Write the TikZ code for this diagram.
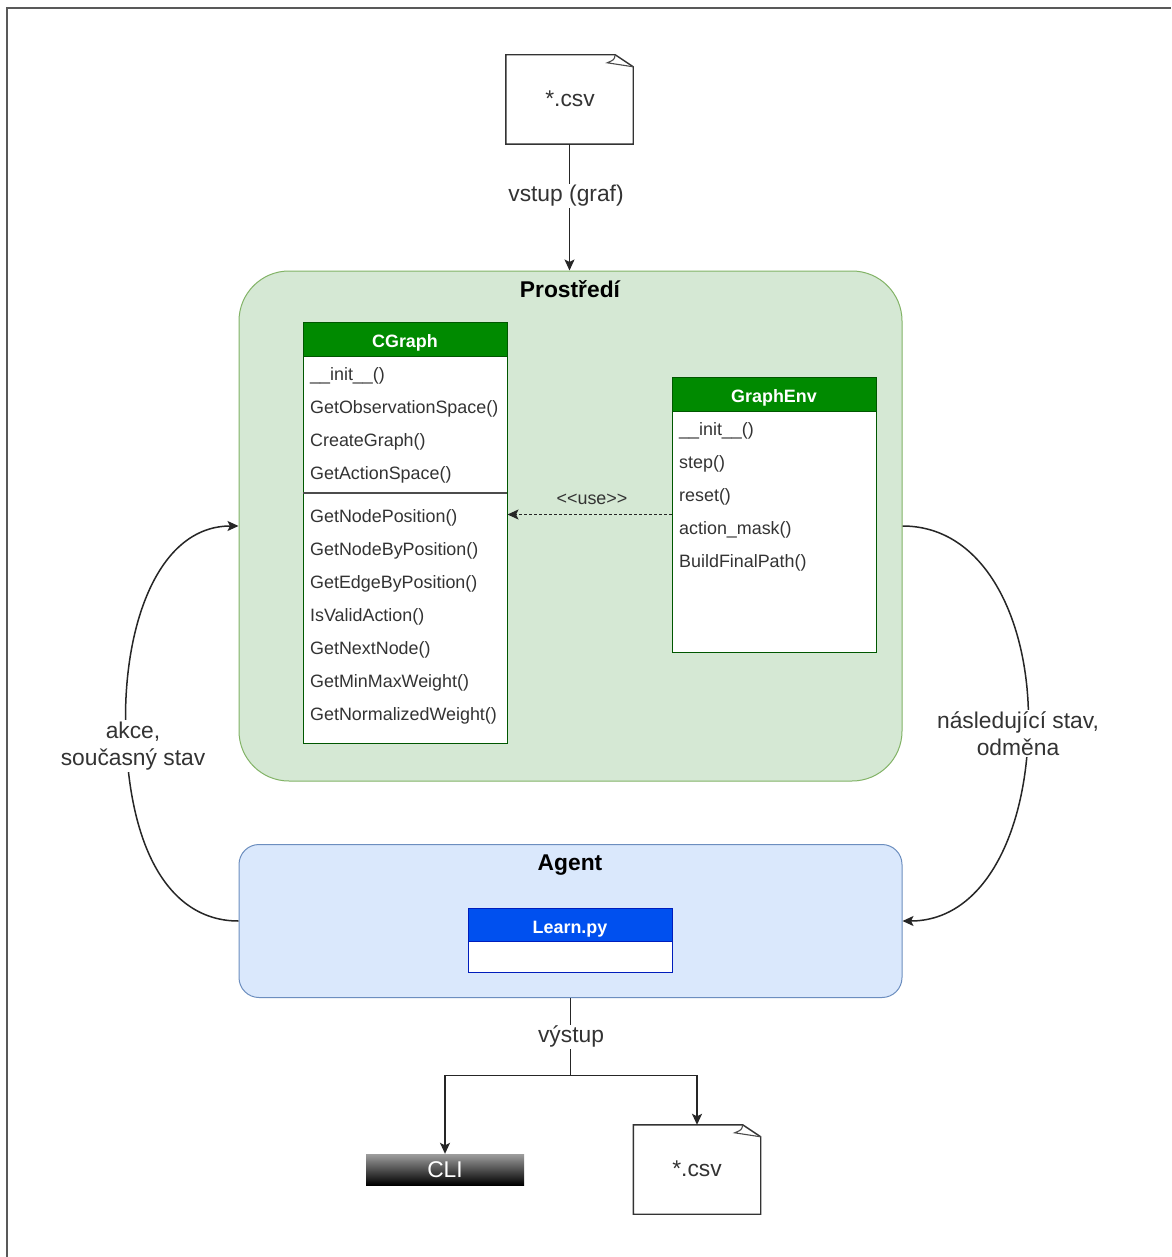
\documentclass[tikz,border=0pt]{standalone}
\usepackage{fontspec}
\setmainfont{Liberation Sans}
\usetikzlibrary{calc,arrows.meta}
\definecolor{envfill}{HTML}{D5E8D4}
\definecolor{envline}{HTML}{82B366}
\definecolor{agfill}{HTML}{DAE8FC}
\definecolor{agline}{HTML}{6C8EBF}
\definecolor{clsgreen}{HTML}{008A00}
\definecolor{clsgreenl}{HTML}{005700}
\definecolor{clsblue}{HTML}{0050EF}
\definecolor{clsbluel}{HTML}{001DBC}
\definecolor{txt}{HTML}{333333}
\newcommand{\bigf}{\fontsize{22.8}{27}\selectfont}
\newcommand{\smallf}{\fontsize{17.9}{21}\selectfont}
\tikzset{
  conn/.style={draw=black!85,line width=1.5pt},
  arr/.style={conn,-{Stealth[length=11pt,width=10pt,inset=2.5pt]}},
  lbl/.style={fill=white,inner sep=1.5pt,font=\bigf,text=txt,align=center},
  region/.style={rounded corners=#1,line width=1pt,inner sep=0pt,minimum width=663pt},
  regtitle/.style={font=\bigf\bfseries,text=black,inner sep=0pt},
  entry/.style={font=\smallf,text=txt,inner sep=0pt,anchor=west},
  header/.style={font=\smallf\bfseries,text=white,inner sep=0pt,line width=1pt,text height=20pt,text depth=2.8pt},
  body/.style={fill=white,inner sep=0pt,line width=1pt},
  docbox/.style={minimum width=127pt,minimum height=89pt,inner sep=0pt,font=\bigf,text=txt},
  docline/.style={draw=black!80,line width=1.4pt,fill=white},
}
\newcommand{\docshape}[1]{%
  \draw[docline] (#1.north west) -- ($(#1.north east)+(-18pt,0)$) -- ($(#1.north east)+(0,-12pt)$) -- (#1.south east) -- (#1.south west) -- cycle;
  \draw[draw=black!70,line width=1.1pt] ($(#1.north east)+(-18pt,0)$) .. controls ($(#1.north east)+(-19pt,-5pt)$) .. ($(#1.north east)+(-26pt,-8pt)$) -- ($(#1.north east)+(0,-12pt)$);
}
\begin{document}
\begin{tikzpicture}[x=1pt,y=-1pt]
\useasboundingbox (0,0) rectangle (1171,1257);
\fill[white] (0,0) rectangle (1171,1257);
\draw[black!65,line width=1.5pt] (7,1257) -- (7,8) -- (1171,8);

% regions
\node[region=50pt,draw=envline,fill=envfill,minimum height=510pt] (env) at (570.5,526) {};
\node[regtitle] (envt) at (570,289) {Prostředí};
\node[region=20pt,draw=agline,fill=agfill,minimum height=153pt] (agent) at (570.5,921) {};
\node[regtitle] (agt) at (570,865) {Agent};

% CGraph
\node[body,draw=clsgreenl,minimum width=204pt,minimum height=421pt] (cg) at (405,532.5) {};
\node[header,fill=clsgreen,draw=clsgreenl,minimum width=204pt,minimum height=34pt] (cgh) at (405,339) {CGraph};
\coordinate (cgsl) at (303,493);
\coordinate (cgsr) at (507,493);
\draw[black!70,line width=1.4pt] (cgsl) -- (cgsr);
\node[entry] (c1) at (310,376) {\_\_init\_\_()};
\node[entry] (c2) at (310,409) {GetObservationSpace()};
\node[entry] (c3) at (310,442) {CreateGraph()};
\node[entry] (c4) at (310,475) {GetActionSpace()};
\node[entry] (c5) at (310,518) {GetNodePosition()};
\node[entry] (c6) at (310,551) {GetNodeByPosition()};
\node[entry] (c7) at (310,584) {GetEdgeByPosition()};
\node[entry] (c8) at (310,617) {IsValidAction()};
\node[entry] (c9) at (310,650) {GetNextNode()};
\node[entry] (c10) at (310,683) {GetMinMaxWeight()};
\node[entry] (c11) at (310,716) {GetNormalizedWeight()};

% GraphEnv
\node[body,draw=clsgreenl,minimum width=204pt,minimum height=275pt] (ge) at (774,514.5) {};
\node[header,fill=clsgreen,draw=clsgreenl,minimum width=204pt,minimum height=34pt] (geh) at (774,394) {GraphEnv};
\node[entry] (g1) at (679,431) {\_\_init\_\_()};
\node[entry] (g2) at (679,464) {step()};
\node[entry] (g3) at (679,497) {reset()};
\node[entry] (g4) at (679,530) {action\_mask()};
\node[entry] (g5) at (679,563) {BuildFinalPath()};

% Learn
\node[body,draw=clsbluel,minimum width=204pt,minimum height=64pt] (lp) at (570,940) {};
\node[header,fill=clsblue,draw=clsbluel,minimum width=204pt,minimum height=33pt] (lph) at (570,924.5) {Learn.py};

% documents
\node[docbox] (csva) at (569.5,99.5) {};
\docshape{csva}
\node[font=\bigf,text=txt,inner sep=0pt] (csvat) at (570,99) {*.csv};
\node[docbox] (csvb) at (697,1169.5) {};
\docshape{csvb}
\node[font=\bigf,text=txt,inner sep=0pt] (csvbt) at (697,1169) {*.csv};

% CLI
\node[top color=black!38,middle color=black,bottom color=black,minimum width=158pt,minimum height=31pt,inner sep=0pt,text=white,font=\bigf] (cli) at (445,1169.5) {CLI};

% connectors
\draw[arr] (csva.south) -- node[lbl,pos=.41,xshift=-3.5pt] (lin) {vstup (graf)} (csva.south |- env.north);
\draw[arr,densely dashed,line width=1.2pt] (ge.west) -- (ge.west -| cg.east);
\node[font=\smallf,text=txt,inner sep=0pt] (use) at (592,499.5) {<{}<use>{}>};

\coordinate (lmid) at (125.5,720);
\coordinate (rmid) at (1028.5,720);
\draw[arr] (agent.west) .. controls (170,921) and (126.5,850) .. (lmid) .. controls (125,620) and (160,526) .. (env.west);
\draw[arr] (env.east) .. controls (985,526) and (1028.5,620) .. (rmid) .. controls (1028.5,830) and (985,921) .. (agent.east);
\node[lbl] (ll) at (133,746) {akce,\\současný stav};
\node[lbl] (rl) at (1018,733.5) {následující stav,\\odměna};

\coordinate (split) at (agent.south |- 0,1075.5);
\draw[conn] (agent.south) -- node[lbl,pos=.5,xshift=.5pt] (lout) {výstup} (split);
\draw[arr] (split) -| (cli.north);
\draw[arr] (split) -| (csvb.north);
\end{tikzpicture}
\end{document}
